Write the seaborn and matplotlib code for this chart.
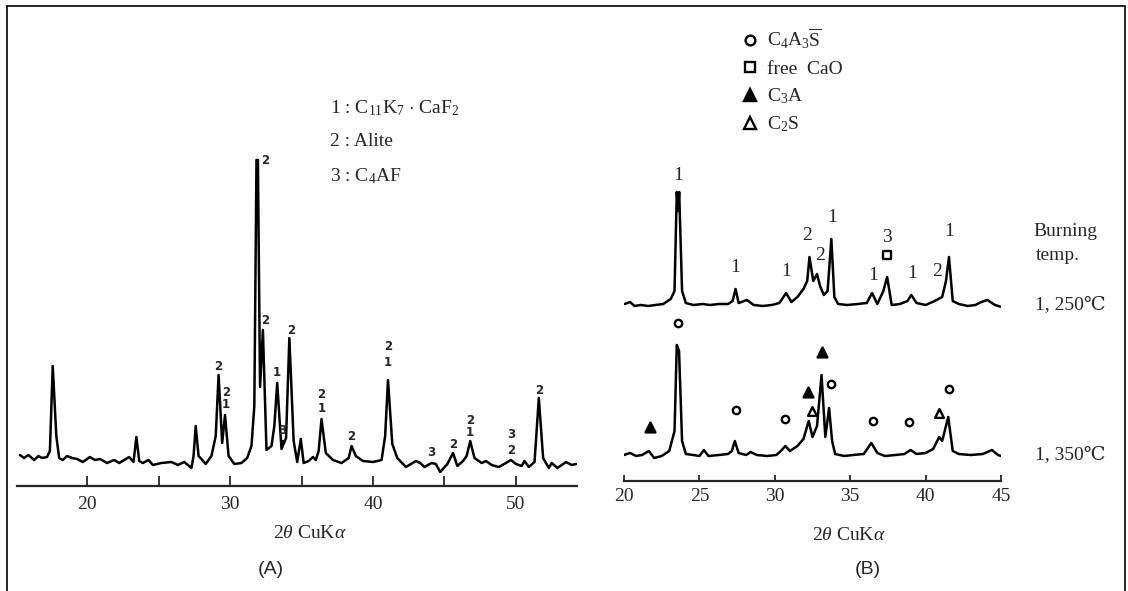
import matplotlib
matplotlib.use('Agg')
import matplotlib.pyplot as plt
import seaborn as sns
import pandas as pd
from matplotlib.lines import Line2D

# ---- (A) XRD pattern of the clinker, 2theta vs. intensity
a_theta = [15.3, 15.6, 15.9, 16.3, 16.6, 16.85, 17.2, 17.4, 17.6, 17.85,
           18.05, 18.3, 18.6, 18.95, 19.3, 19.7, 20.2, 20.55, 20.9, 21.4,
           21.9, 22.25, 22.6, 22.95, 23.25, 23.45, 23.65, 23.9, 24.3, 24.6,
           25.2, 25.9, 26.35, 26.8, 27.3, 27.45, 27.6, 27.8, 28.0, 28.3,
           28.7, 29.0, 29.2, 29.45, 29.65, 29.9, 30.3, 30.8, 31.2, 31.5,
           31.7, 31.85, 31.95, 32.1, 32.3, 32.55, 32.9, 33.1, 33.3, 33.6,
           33.92, 34.15, 34.45, 34.7, 34.95, 35.15, 35.5, 35.8, 36.0, 36.2,
           36.4, 36.7, 37.2, 37.8, 38.3, 38.5, 38.8, 39.3, 40.0, 40.6,
           40.85, 41.05, 41.35, 41.7, 42.3, 43.0, 43.3, 43.6, 44.1, 44.4,
           44.7, 45.2, 45.6, 45.9, 46.3, 46.55, 46.8, 47.1, 47.6, 47.9,
           48.3, 48.8, 49.3, 49.65, 50.0, 50.4, 50.6, 50.9, 51.3, 51.6,
           51.9, 52.3, 52.5, 52.9, 53.2, 53.5, 53.9, 54.2]
a_int = [31, 28, 31, 26, 30, 28, 29, 35, 120, 50,
         28, 26, 30, 28, 27, 24, 29, 26, 27, 23,
         26, 23, 26, 29, 24, 49, 25, 23, 26, 21,
         23, 24, 21, 24, 18, 30, 60, 30, 27, 22,
         30, 50, 111, 43, 71, 30, 22, 23, 28, 40,
         80, 326, 326, 99, 156, 36, 40, 60, 103, 37,
         48, 148, 45, 24, 47, 23, 25, 29, 26, 35,
         67, 33, 26, 23, 28, 40, 30, 25, 24, 26,
         50, 106, 42, 28, 19, 25, 23, 19, 23, 22,
         14, 22, 33, 20, 25, 30, 45, 28, 23, 25,
         21, 19, 23, 26, 22, 20, 25, 19, 24, 88,
         28, 18, 23, 18, 21, 24, 21, 22]

# peak labels of (A): 1 = C11K7.CaF2, 2 = Alite, 3 = C4AF
a_lab_theta = [29.2, 29.7, 29.7, 32.45, 32.45, 33.3, 33.65, 34.25,
               36.4, 36.4, 38.5, 41.05, 41.05, 44.1, 45.6, 46.8, 46.8,
               49.65, 49.65, 51.6]
a_lab_int = [119, 94, 82, 326, 166, 114, 56, 156,
             91, 78, 49, 139, 124, 34, 42, 66, 53,
             51, 36, 96]
a_lab_text = ['2', '2', '1', '2', '2', '1', '3', '2',
              '2', '1', '2', '2', '1', '3', '2', '2', '1',
              '3', '2', '2']
# small arrow under the "3" near 33.65
a_arrow_theta = [33.65]
a_arrow_int = [44]

# ---- (B) patterns at two burning temperatures
b1250_theta = [20.05, 20.4, 20.7, 21.1, 21.6, 22.1, 22.6, 23.1, 23.35, 23.5,
               23.58, 23.66, 23.85, 24.1, 24.6, 25.2, 25.7, 26.3, 26.9, 27.2, 27.4,
               27.6, 28.15, 28.6, 29.2, 29.8, 30.3, 30.75, 31.1, 31.5, 31.9,
               32.15, 32.3, 32.55, 32.8, 33.0, 33.25, 33.5, 33.75, 33.95, 34.2,
               34.8, 35.5, 36.1, 36.45, 36.8, 37.2, 37.45, 37.75, 38.3, 38.8,
               39.05, 39.4, 40.0, 40.6, 41.1, 41.35, 41.55, 41.8, 42.2, 42.8,
               43.3, 43.7, 44.1, 44.6, 45.05]
b1250_int = [177, 179, 175, 176, 175, 176, 177, 182, 190, 289,
             270, 289, 190, 178, 176, 177, 176, 177, 177, 180, 192,
             178, 181, 176, 175, 176, 178, 188, 179, 184, 192,
             200, 224, 200, 207, 195, 186, 190, 242, 184, 177,
             176, 177, 178, 188, 177, 190, 204, 176, 177, 180,
             186, 178, 176, 180, 184, 200, 224, 180, 177, 175,
             176, 179, 181, 176, 174]

b1350_theta = [20.0, 20.4, 20.8, 21.2, 21.65, 22.0, 22.5, 23.0, 23.35, 23.5,
               23.65, 23.85, 24.1, 24.6, 25.0, 25.3, 25.6, 26.3, 26.9, 27.15,
               27.35, 27.6, 28.1, 28.4, 28.8, 29.5, 30.1, 30.4, 30.7, 31.0,
               31.5, 31.9, 32.25, 32.5, 32.8, 33.1, 33.35, 33.6, 33.8, 34.0,
               34.6, 35.2, 35.9, 36.4, 36.8, 37.3, 38.0, 38.6, 39.0, 39.4,
               40.0, 40.5, 40.9, 41.1, 41.5, 41.8, 42.2, 43.0, 43.8, 44.4,
               44.8, 45.0]
b1350_int = [26, 28, 25, 26, 30, 23, 25, 30, 50, 136,
             130, 40, 27, 26, 25, 31, 25, 26, 27, 30,
             40, 28, 26, 29, 26, 25, 26, 30, 35, 30,
             35, 42, 60, 44, 55, 106, 44, 73, 40, 27,
             25, 26, 27, 38, 28, 25, 26, 27, 31, 27,
             28, 32, 44, 40, 64, 30, 27, 26, 27, 31,
             26, 25]

b_lab_theta = [23.6, 27.4, 30.75, 32.15, 33.0, 33.8, 36.5, 37.45, 39.1, 40.75, 41.55]
b_lab_int = [306, 214, 210, 246, 226, 264, 206, 243, 208, 209, 249]
b_lab_text = ['1', '1', '1', '2', '2', '1', '1', '3', '1', '2', '1']

mark_theta = [23.6, 27.4, 30.7, 33.7, 36.5, 38.9, 41.55, 37.45,
              21.7, 32.2, 33.1, 32.45, 40.9]
mark_int = [158, 71, 62, 97, 60, 59, 92, 226,
            54, 89, 129, 70, 68]
mark_kind = ['C4A3S'] * 7 + ['CaO'] + ['C3A'] * 3 + ['C2S'] * 2

kind_style = {
    'C4A3S': dict(marker='o', s=28, color='white'),
    'CaO': dict(marker='s', s=30, color='white'),
    'C3A': dict(marker='^', s=50, color='black'),
    'C2S': dict(marker='^', s=40, color='white'),
}
kind_label = {
    'C4A3S': r'C$_4$A$_3\overline{\mathrm{S}}$',
    'CaO': 'free  CaO',
    'C3A': r'C$_3$A',
    'C2S': r'C$_2$S',
}

sns.set_style('white')
plt.rcParams['font.family'] = ['Liberation Serif', 'DejaVu Serif']
plt.rcParams['mathtext.fontset'] = 'custom'
plt.rcParams['mathtext.rm'] = 'Liberation Serif'
plt.rcParams['mathtext.it'] = 'Liberation Serif:italic'
plt.rcParams['mathtext.bf'] = 'Liberation Serif:bold'

W, H = 1128, 591
fig = plt.figure(figsize=(W / 100, H / 100), dpi=100)


def fx(px):
    return px / W


def fy(py):
    return 1 - py / H


# ---------------- panel A
axA = fig.add_axes([fx(17), fy(486), fx(560), 466 / H])
dfA = pd.DataFrame({'theta': a_theta, 'I': a_int})
sns.lineplot(data=dfA, x='theta', y='I', ax=axA, color='black', lw=1.8,
             estimator=None, sort=False)
for t, i, s in zip(a_lab_theta, a_lab_int, a_lab_text):
    axA.text(t, i, s, ha='center', va='center', fontsize=8.5,
             fontweight='bold', family='DejaVu Sans')
sns.scatterplot(x=a_arrow_theta, y=a_arrow_int, ax=axA, marker='v', s=14,
                color='black', linewidth=0)
axA.set_xlim(15.1, 54.27)
axA.set_ylim(0, 466)
axA.set_xticks([20, 30, 40, 50])
axA.set_xticks([25, 35, 45], minor=True)
axA.tick_params(axis='x', which='both', direction='in', length=7, width=1.3,
                pad=7, labelsize=14, bottom=True)
axA.set_yticks([])
axA.set_xlabel('')
axA.set_ylabel('')
for side in ['top', 'right', 'left']:
    axA.spines[side].set_visible(False)
axA.spines['bottom'].set_linewidth(1.6)

for k, s in enumerate([r'1 : C$_{11}$K$_7$ $\cdot$ CaF$_2$', '2 : Alite', r'3 : C$_4$AF']):
    fig.text(fx(330), fy(108 + 34 * k), s, ha='left', va='center', fontsize=14)

fig.text(fx(310), fy(533), r'2$\theta$ CuK$\alpha$', ha='center', va='center', fontsize=14)
fig.text(fx(271), fy(570), '(A)', ha='center', va='center', fontsize=14,
         family='Liberation Sans')

# ---------------- panel B
axB = fig.add_axes([fx(624), fy(481), fx(377), 461 / H])
dfB = pd.concat([
    pd.DataFrame({'theta': b1250_theta, 'I': b1250_int, 'temp': '1250'}),
    pd.DataFrame({'theta': b1350_theta, 'I': b1350_int, 'temp': '1350'}),
])
sns.lineplot(data=dfB, x='theta', y='I', units='temp', ax=axB, color='black',
             lw=1.8, estimator=None, sort=False)
for t, i, s in zip(b_lab_theta, b_lab_int, b_lab_text):
    axB.text(t, i, s, ha='center', va='center', fontsize=14)

dfM = pd.DataFrame({'theta': mark_theta, 'I': mark_int, 'kind': mark_kind})
handles = []
for kind, st in kind_style.items():
    sub = dfM[dfM['kind'] == kind]
    sns.scatterplot(data=sub, x='theta', y='I', ax=axB, marker=st['marker'],
                    s=st['s'], color=st['color'], edgecolor='black',
                    linewidth=1.7, zorder=5, clip_on=False)
    handles.append(Line2D([], [], ls='', marker=st['marker'],
                          markersize=7 if st['marker'] != '^' else 8,
                          markerfacecolor=st['color'], markeredgecolor='black',
                          markeredgewidth=1.7, label=kind_label[kind]))

axB.legend(handles=handles, loc='upper left', bbox_to_anchor=(fx(732), fy(17)),
           bbox_transform=fig.transFigure, frameon=False, fontsize=14,
           handlelength=0.8, handletextpad=0.5, labelspacing=0.45, borderpad=0)

axB.set_xlim(20, 45)
axB.set_ylim(0, 461)
axB.set_xticks([20, 25, 30, 35, 40, 45])
axB.tick_params(axis='x', direction='in', length=4, width=1.3, pad=5,
                labelsize=14, bottom=True)
axB.set_yticks([])
axB.set_xlabel('')
axB.set_ylabel('')
for side in ['top', 'right', 'left']:
    axB.spines[side].set_visible(False)
axB.spines['bottom'].set_linewidth(1.6)

fig.text(fx(1033), fy(232), 'Burning', ha='left', va='center', fontsize=14)
fig.text(fx(1036), fy(256), 'temp.', ha='left', va='center', fontsize=14)
fig.text(fx(1035), fy(305), '1, 250℃', ha='left', va='center', fontsize=14)
fig.text(fx(1035), fy(455), '1, 350℃', ha='left', va='center', fontsize=14)

fig.text(fx(849), fy(535), r'2$\theta$ CuK$\alpha$', ha='center', va='center', fontsize=14)
fig.text(fx(868), fy(570), '(B)', ha='center', va='center', fontsize=14,
         family='Liberation Sans')

# scanned page frame
for xs, ys in [([7, 7], [591, 6]), ([7, 1125], [6, 6]), ([1125, 1125], [6, 591])]:
    fig.add_artist(Line2D([fx(v) for v in xs], [fy(v) for v in ys],
                          transform=fig.transFigure, color='black', lw=1.2))

fig.savefig('out.png', dpi=100)
